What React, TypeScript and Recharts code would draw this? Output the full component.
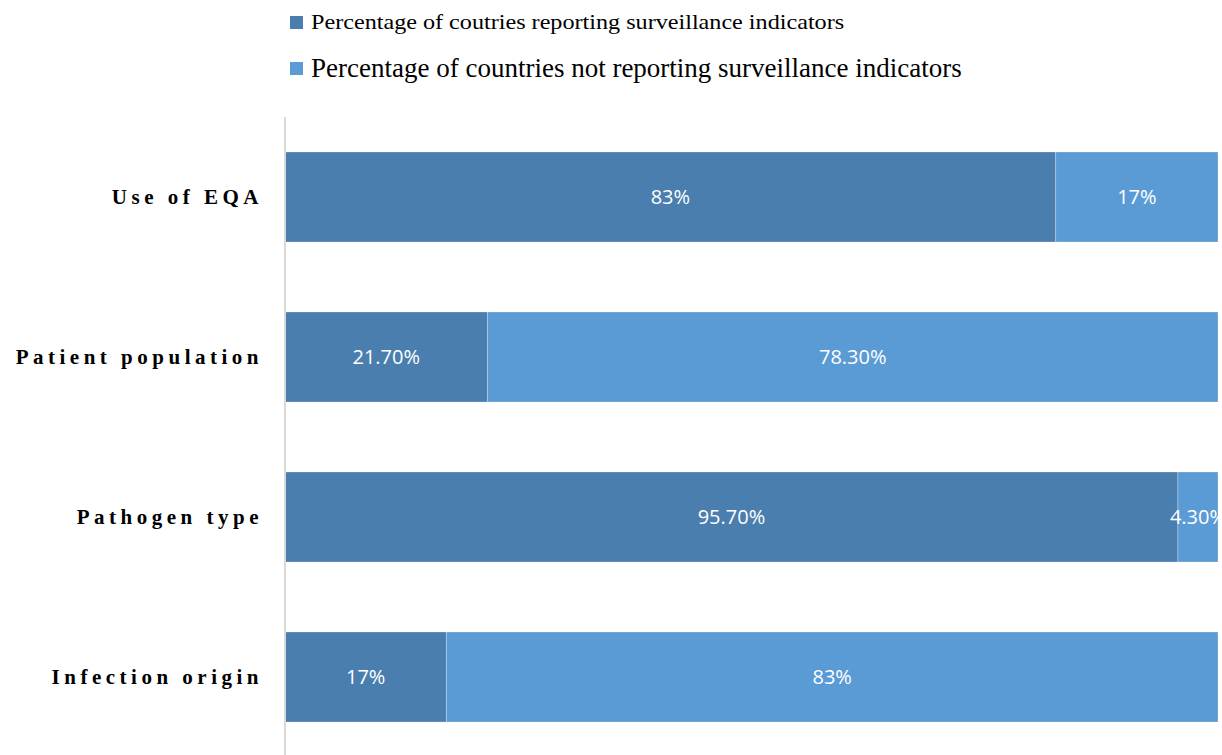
import React from 'react';
import { BarChart, Bar, XAxis, YAxis, LabelList } from 'recharts';

const categories = ['Use of EQA', 'Patient population', 'Pathogen type', 'Infection origin'];
const reporting = [82.6, 21.7, 95.7, 17.3];
const notReporting = [17.4, 78.3, 4.3, 82.7];
const reportingLabels = ['83%', '21.70%', '95.70%', '17%'];
const notReportingLabels = ['17%', '78.30%', '4.30%', '83%'];

const seriesNames = [
  'Percentage of coutries reporting surveillance indicators',
  'Percentage of countries not reporting surveillance indicators',
];
const colors = ['#4A7EAF', '#5B9BD5'];

const data = categories.map((name, i) => ({
  name,
  reporting: reporting[i],
  notReporting: notReporting[i],
  reportingLabel: reportingLabels[i],
  notReportingLabel: notReportingLabels[i],
}));

const serif = '"Liberation Serif", "Times New Roman", serif';
const labelFont = '"Open Sans", "Noto Sans", sans-serif';

const Legend: React.FC = () => (
  <div style={{ position: 'absolute', left: 290, top: 0, fontFamily: serif, color: '#000' }}>
    <div style={{ position: 'absolute', top: 10, display: 'flex', alignItems: 'center', whiteSpace: 'nowrap' }}>
      <span style={{ width: 13, height: 13, background: colors[0], display: 'inline-block', marginRight: 8 }} />
      <span style={{ fontSize: 21, display: 'inline-block', transform: 'scaleX(1.15)', transformOrigin: 'left center' }}>
        {seriesNames[0]}
      </span>
    </div>
    <div style={{ position: 'absolute', top: 53, display: 'flex', alignItems: 'center', whiteSpace: 'nowrap' }}>
      <span style={{ width: 13, height: 13, background: colors[1], display: 'inline-block', marginRight: 8 }} />
      <span style={{ fontSize: 27 }}>{seriesNames[1]}</span>
    </div>
  </div>
);

export default function App() {
  return (
    <div style={{ position: 'absolute', left: 0, top: 0, width: 1222, height: 755, overflow: 'hidden', background: '#fff' }}>
      <Legend />
      <BarChart
        width={1222}
        height={757}
        data={data}
        layout="vertical"
        margin={{ top: 117, right: 4, bottom: 0, left: 0 }}
        barSize={90}
      >
        <XAxis type="number" domain={[0, 100]} hide />
        <YAxis
          type="category"
          dataKey="name"
          width={285}
          axisLine={{ stroke: '#d9d9d9', strokeWidth: 2 }}
          tickLine={false}
          tickMargin={16}
          tick={{ fill: '#000', fontFamily: serif, fontWeight: 'bold', fontSize: 21, letterSpacing: 4.5 }}
        />
        <Bar dataKey="reporting" stackId="a" fill={colors[0]} stroke="rgba(255,255,255,0.25)" strokeWidth={1} isAnimationActive={false}>
          <LabelList dataKey="reportingLabel" position="center" fill="#fff" fontFamily={labelFont} fontSize={20} />
        </Bar>
        <Bar dataKey="notReporting" stackId="a" fill={colors[1]} stroke="rgba(255,255,255,0.25)" strokeWidth={1} isAnimationActive={false}>
          <LabelList dataKey="notReportingLabel" position="center" fill="#fff" fontFamily={labelFont} fontSize={20} />
        </Bar>
      </BarChart>
    </div>
  );
}
